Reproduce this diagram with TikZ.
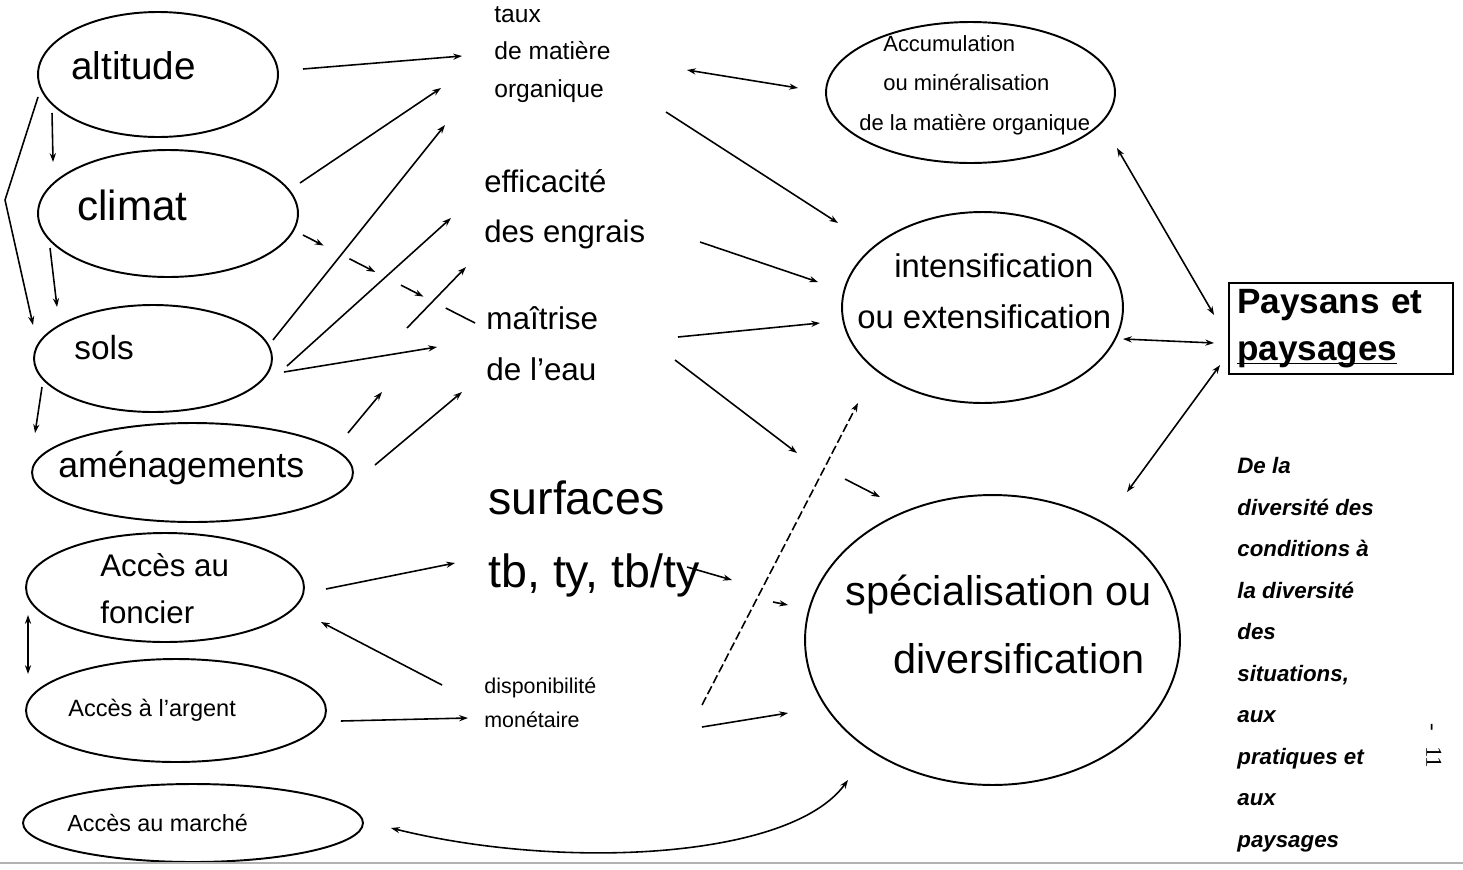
\documentclass[tikz,border=0pt]{standalone}
\usepackage{fontspec}
\setmainfont{Liberation Sans}
\newfontfamily\pagefont{Liberation Serif}
\newfontface\listfont{Liberation Sans Bold Italic}
\usetikzlibrary{arrows.meta,calc,shapes.geometric}

\newcommand{\fsz}[2]{\fontsize{#1pt}{#2pt}\selectfont}
\newcommand{\ulword}[1]{\leavevmode\setbox0\hbox{#1}\rlap{\rule[-2.3pt]{\wd0}{1pt}}\box0}

\begin{document}
\begin{tikzpicture}[x=0.02cm,y=-0.02cm,
    oval/.style={draw,ellipse,line width=1.1pt,inner sep=0pt,outer sep=0pt},
    lbl/.style={anchor=base west,inner sep=0pt,align=left},
    arr/.style={line width=0.9pt,-{Stealth[length=5pt,width=3.5pt]}},
    darr/.style={line width=0.9pt,{Stealth[length=5pt,width=3.5pt]}-{Stealth[length=5pt,width=3.5pt]}},
    ln/.style={line width=0.9pt}]
    \path[fill=white,use as bounding box] (0,0) rectangle (1463,869);

    % facteurs
    \node[oval,minimum width=4.8cm,minimum height=2.5cm] (altitude) at (158,74.5) {};
    \node[oval,minimum width=5.2cm,minimum height=2.54cm] (climat) at (168,213.5) {};
    \node[oval,minimum width=4.76cm,minimum height=2.14cm] (sols) at (153,358.5) {};
    \node[oval,minimum width=6.42cm,minimum height=1.98cm] (amenag) at (192.5,472.5) {};
    \node[oval,minimum width=5.56cm,minimum height=2.18cm] (foncier) at (165,587.5) {};
    \node[oval,minimum width=6cm,minimum height=2.06cm] (argent) at (176,710.5) {};
    \node[oval,minimum width=6.8cm,minimum height=1.56cm] (marche) at (193,823) {};

    \node[lbl,font=\fsz{22}{26}] (t-alt) at (71,79) {altitude};
    \node[lbl,font=\fsz{24}{28}] (t-clim) at (77,220) {climat};
    \node[lbl,font=\fsz{19}{23}] (t-sols) at (74,359) {sols};
    \node[lbl,font=\fsz{20.3}{24}] (t-amen) at (58,477) {aménagements};
    \node[lbl,font=\fsz{17.8}{26.2}] (t-fonc) at (100,623) {Accès au\\foncier};
    \node[lbl,font=\fsz{13.4}{16}] (t-arg) at (68,716) {Accès à l'argent};
    \node[lbl,font=\fsz{13.3}{16}] (t-marche) at (67,831) {Accès au marché};

    % variables intermediaires
    \node[lbl,font=\fsz{14}{21.3}] (mo) at (494,97) {taux\\de matière\\organique};
    \node[lbl,font=\fsz{17.7}{27.9}] (engrais) at (484,242) {efficacité\\des engrais};
    \node[lbl,font=\fsz{17.9}{28.5}] (eau) at (486,380) {maîtrise\\de l’eau};
    \node[lbl,font=\fsz{26.5}{41.5}] (surf) at (488,587) {surfaces\\tb, ty, tb/ty};
    \node[lbl,font=\fsz{12.2}{18.8}] (dispo) at (484,727) {disponibilité\\monétaire};

    % pratiques
    \node[oval,minimum width=5.78cm,minimum height=2.82cm] (accum) at (970.5,92.5) {};
    \node[oval,minimum width=5.62cm,minimum height=3.82cm] (intens) at (982.5,307.5) {};
    \node[oval,minimum width=7.5cm,minimum height=5.8cm] (special) at (992.5,640) {};
    \node[lbl,font=\fsz{12.5}{22.2}] (t-accum) at (883,130) {Accumulation\\ou minéralisation\\\hspace*{-0.48cm}de la matière organique};
    \node[lbl,font=\fsz{18.7}{28.5}] (t-intens) at (857,328) {\hspace*{0.74cm}intensification\\ou extensification};
    \node[lbl,font=\fsz{23.6}{38.7}] (t-spec) at (845,673) {spécialisation ou\\\hspace*{0.96cm}diversification};

    \node[draw,rectangle,line width=1.1pt,minimum width=4.48cm,minimum height=1.82cm,text width=4.16cm,inner xsep=0.16cm,inner ysep=0pt,align=left,font=\bfseries\fsz{20}{26.7}] (paysans) at (1341,328.5) {Paysans et\\\ulword{paysages}};
    \node[lbl,font=\listfont\fsz{12.7}{23.6}] (diversite) at (1237,847) {De la\\diversité des\\conditions à\\la diversité\\des\\situations,\\aux\\pratiques et\\aux\\paysages};
    \node[rotate=-90,inner sep=0pt,font=\pagefont\fsz{13}{15}] (pnum) at (1434,746) {-\hspace{0.3cm}11};

    % liens entre facteurs
    \draw[arr] ($(altitude.west)+(0,22.5)$) -- ++(-33,103) -- ($(sols.west)+(-1,-33.5)$);
    \draw[arr] ($(altitude.west)+(14,38.5)$) -- ($(climat.west)+(15,-51.5)$);
    \draw[arr] ($(climat.west)+(12,34.5)$) -- ($(sols.west)+(23,-51.5)$);
    \draw[arr] ($(sols.west)+(8,28.5)$) -- ($(amenag.west)+(3,-39.5)$);
    \draw[darr] ($(foncier.west)+(2,27.5)$) -- ($(argent.west)+(2,-36.5)$);

    % facteurs -> variables
    \draw[arr] ($(altitude.east)+(25,-5.5)$) -- ($(mo.base west)+(-32,-41)$);
    \draw[arr] ($(climat.east)+(2,-30.5)$) -- ($(mo.base west)+(-53,-9)$);
    \draw[arr] ($(sols.east)+(1,-18.5)$) -- ($(mo.base west)+(-49,28)$);
    \draw[arr] ($(sols.east)+(15,7.5)$) -- ($(engrais.base west)+(-33,-24)$);
    \draw[arr] ($(sols.east)+(12,13.5)$) -- ($(eau.base west)+(-49,-33)$);
    \coordinate (cd1) at ($(climat.east)+(5,21.5)$);
    \coordinate (cd2) at ($(eau.base west)+(-11,-57)$);
    \draw[arr] (cd1) -- ($(cd1)!.12!(cd2)$);
    \draw[arr] ($(cd1)!.27!(cd2)$) -- ($(cd1)!.42!(cd2)$);
    \draw[arr] ($(cd1)!.57!(cd2)$) -- ($(cd1)!.70!(cd2)$);
    \draw[ln] ($(cd1)!.83!(cd2)$) -- (cd2);
    \draw[arr] ($(amenag.east)+(-5,-39.5)$) -- ($(amenag.east)+(29,-80.5)$);
    \draw[arr] ($(engrais.base west)+(-77,86)$) -- ($(engrais.base west)+(-18,25)$);
    \draw[arr] ($(amenag.east)+(22,-7.5)$) -- ($(eau.base west)+(-24,12)$);
    \draw[arr] ($(foncier.east)+(22,1.5)$) -- ($(surf.base west)+(-33,-24)$);
    \draw[arr] ($(dispo.base west)+(-42,-42)$) -- ($(foncier.east)+(17,34.5)$);
    \draw[arr] ($(argent.east)+(15,10.5)$) -- ($(dispo.base west)+(-16,-9)$);
    \draw[darr] ($(special.south)+(-144.5,-5)$) .. controls +(-58,80) and +(169,42) .. ($(marche.east)+(28,5)$);

    % variables -> pratiques
    \draw[darr] ($(mo.base west)+(193,-27)$) -- ($(accum.west)+(-28,-4.5)$);
    \draw[arr] ($(mo.base west)+(172,15)$) -- ($(intens.west)+(-4,-84.5)$);
    \draw[arr] ($(engrais.base west)+(216,0)$) -- ($(intens.west)+(-24,-25.5)$);
    \draw[arr] ($(eau.base west)+(192,-43)$) -- ($(intens.west)+(-22,15.5)$);
    \draw[arr] ($(eau.base west)+(189,-20)$) -- ($(special.north)+(-195.5,-42)$);
    \draw[arr] ($(special.north)+(-147.5,-16)$) -- ($(special.north)+(-112.5,2)$);
    \draw[arr] ($(surf.base west)+(199,-20)$) -- ($(surf.base west)+(244,-7)$);
    \draw[arr] ($(special.west)+(-32,-38)$) -- ($(special.west)+(-17,-35)$);
    \draw[arr,dash pattern=on 5pt off 2pt] ($(dispo.base west)+(218,-22)$) -- ($(intens.south)+(-124.5,0)$);
    \draw[arr] ($(dispo.base west)+(218,0)$) -- ($(special.west)+(-17,73)$);

    % pratiques <-> paysages
    \draw[darr] ($(paysans.west)+(-14,-13.5)$) -- ($(accum.east)+(2,55.5)$);
    \draw[darr] ($(paysans.west)+(-14,14.5)$) -- ($(intens.east)+(0,31.5)$);
    \draw[darr] ($(paysans.west)+(-8,36.5)$) -- ($(special.north)+(134.5,-3)$);

    \draw[gray!60,line width=1.2pt] (0,863) -- (1463,863);
\end{tikzpicture}
\end{document}
